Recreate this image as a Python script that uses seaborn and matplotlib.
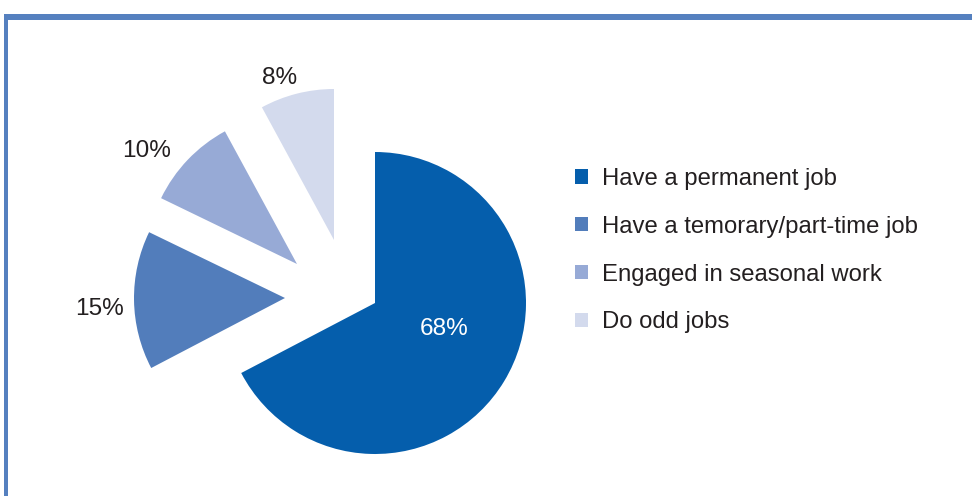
import matplotlib
matplotlib.use("Agg")
import matplotlib.pyplot as plt
from matplotlib.patches import Rectangle
import seaborn as sns

# Employment situation shares (%)
categories = [
    "Have a permanent job",
    "Have a temorary/part-time job",
    "Engaged in seasonal work",
    "Do odd jobs",
]
shares = [68, 15, 10, 8]
colors = ["#055eac", "#527dbb", "#97aad6", "#d3daed"]

sns.set_theme(style="white")
plt.rcParams["font.family"] = ["Liberation Sans", "DejaVu Sans"]

W, H = 972, 496
fig = plt.figure(figsize=(W / 100, H / 100), dpi=100)
ax = fig.add_axes([0, 0, 1, 1])

center = (375, H - 303)
radius = 151
wedges, _ = ax.pie(
    shares,
    colors=colors,
    startangle=90,
    counterclock=False,
    radius=radius,
    center=center,
    frame=True,
    wedgeprops=dict(linewidth=0),
)
ax.set_xlim(0, W)
ax.set_ylim(0, H)
ax.set_axis_off()

# pull the smaller slices out from the main piece
shifts = [(0, 0), (-90, 5), (-78, 39), (-41, 63)]
for w, (dx, dy) in zip(wedges, shifts):
    w.set_center((center[0] + dx, center[1] + dy))

# percentage labels
label_pos = [(444, 329), (99, 309), (147, 151), (280, 78)]
label_col = ["white", "#231f20", "#231f20", "#231f20"]
for v, (x, y), c in zip(shares, label_pos, label_col):
    ax.text(x, H - y, f"{v}%", ha="center", va="center", fontsize=17.6, color=c)

# legend
handles = [Rectangle((0, 0), 1, 1, facecolor=c, edgecolor="none") for c in colors]
ax.legend(
    handles, categories,
    loc="upper left", bbox_to_anchor=(575, H - 168), bbox_transform=ax.transData,
    frameon=False, fontsize=17.2, handlelength=0.54, handleheight=0.54,
    handletextpad=0.59, labelspacing=1.08, borderpad=0, borderaxespad=0,
    labelcolor="#231f20",
)

# frame lines along the top and left edges
frame_col = "#5580bf"
fig.add_artist(Rectangle((4 / W, (H - 20) / H), 1, 6 / H, transform=fig.transFigure,
                         facecolor=frame_col, edgecolor="none"))
fig.add_artist(Rectangle((4 / W, 0), 3.5 / W, (H - 14) / H, transform=fig.transFigure,
                         facecolor=frame_col, edgecolor="none"))

fig.savefig("out.png", dpi=100)
